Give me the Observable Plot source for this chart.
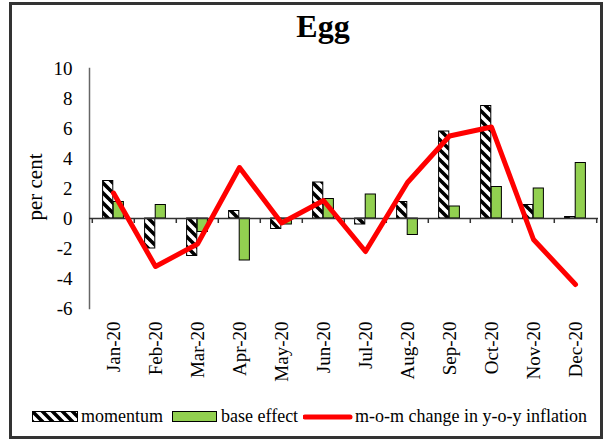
<!DOCTYPE html>
<html>
<head>
<meta charset="utf-8">
<script src="https://cdn.jsdelivr.net/npm/d3@7"></script>
<script src="https://cdn.jsdelivr.net/npm/@observablehq/plot@0.6"></script>
<style>
  body { margin: 0; background: #fff; }
  #wrap { position: relative; width: 607px; height: 440px; overflow: hidden; background: #fff;
          font-family: "Liberation Serif", "Times New Roman", serif; color: #000; }
  #frame { position: absolute; left: 9px; top: 2px; width: 588px; height: 431px; border: 3px solid #333; }
  #title { position: absolute; left: 0; width: 646px; top: 8px; text-align: center; font-weight: bold; font-size: 32px; line-height: 36px; }
  #ylabel { position: absolute; left: 35px; top: 187px; font-size: 21px; line-height: 22px; white-space: nowrap;
            transform: translate(-50%, -50%) rotate(-90deg); }
  #chart { position: absolute; left: 0; top: 0; }
  .lg { position: absolute; font-size: 18px; line-height: 20px; top: 406px; white-space: nowrap; }
  .sw { position: absolute; }
</style>
</head>
<body>
<div id="wrap">
  <div id="chart"></div>
  <div id="frame"></div>
  <div id="title">Egg</div>
  <div id="ylabel">per cent</div>
  <div id="legend"></div>
</div>
<script>
const months = ["Jan-20","Feb-20","Mar-20","Apr-20","May-20","Jun-20","Jul-20","Aug-20","Sep-20","Oct-20","Nov-20","Dec-20"];
const momentum = [2.5, -2.0, -2.5, 0.5, -0.7, 2.4, -0.4, 1.1, 5.8, 7.5, 0.9, 0.1];
const baseEffect = [1.1, 0.9, -0.9, -2.8, -0.4, 1.3, 1.6, -1.1, 0.8, 2.1, 2.0, 3.7];
const momChange = [1.7, -3.2, -1.7, 3.4, -0.3, 1.2, -2.2, 2.4, 5.5, 6.1, -1.4, -4.4];
const yTicks = [-6, -4, -2, 0, 2, 4, 6, 8, 10];
const seriesNames = ["momentum", "base effect", "m-o-m change in y-o-y inflation"];

const W = 607, H = 440, mL = 89, mR = 9, mT = 68, mB = 132;
const step = (W - mL - mR) / months.length;
const barW = step / 4;

const rows = months.map((m, i) => ({month: m, momentum: momentum[i], base: baseEffect[i], mom: momChange[i]}));

const svg = Plot.plot({
  width: W, height: H,
  marginLeft: mL, marginRight: mR, marginTop: mT, marginBottom: mB,
  style: {fontFamily: '"Liberation Serif", "Times New Roman", serif', fontSize: "19px", color: "#000", background: "transparent", overflow: "visible"},
  x: {type: "band", domain: months, padding: 0},
  y: {domain: [-6, 10]},
  marks: [
    Plot.frame({anchor: "left", stroke: "#666", strokeWidth: 1.5}),
    Plot.axisY({ticks: yTicks, tickSize: 0, tickPadding: 17, label: null, tickFormat: d => String(d)}),
    Plot.axisX({tickSize: 0, tickPadding: 13, tickRotate: -90, label: null}),
    Plot.barY(rows, {x: "month", y: "momentum", fill: "url(#hatch)", stroke: "#000", strokeWidth: 1,
                     insetLeft: step / 2 - barW, insetRight: step / 2}),
    Plot.barY(rows, {x: "month", y: "base", fill: "#92D050", stroke: "#000", strokeWidth: 1,
                     insetLeft: step / 2, insetRight: step / 2 - barW}),
    Plot.ruleY([0], {stroke: "#333", strokeWidth: 1.5}),
    Plot.ruleX(rows, {x: "month", y1: 0, y2: 0, insetBottom: -5, dx: -step / 2, stroke: "#333", strokeWidth: 1.5}),
    Plot.ruleX(rows.slice(-1), {x: "month", y1: 0, y2: 0, insetBottom: -5, dx: step / 2, stroke: "#333", strokeWidth: 1.5}),
    Plot.lineY(rows, {x: "month", y: "mom", stroke: "#ff0000", strokeWidth: 5, strokeLinejoin: "round", strokeLinecap: "round"})
  ]
});

const NS = "http://www.w3.org/2000/svg";
const defs = document.createElementNS(NS, "defs");
defs.innerHTML = '<pattern id="hatch" patternUnits="userSpaceOnUse" width="10" height="10">' +
  '<rect width="10" height="10" fill="#fff"/>' +
  '<path d="M-1,-1L11,11M-1,9L1,11M9,-1L11,1" stroke="#000" stroke-width="3.6"/></pattern>';
svg.insertBefore(defs, svg.firstChild);
document.getElementById("chart").appendChild(svg);

// legend
const lg = document.getElementById("legend");
lg.innerHTML =
  '<svg class="sw" style="left:32px;top:411px" width="46" height="12"><rect x="0.5" y="0.5" width="45" height="10" fill="url(#hatch)" stroke="#000"/></svg>' +
  '<div class="lg" style="left:81px">' + seriesNames[0] + '</div>' +
  '<svg class="sw" style="left:172px;top:411px" width="46" height="12"><rect x="0.5" y="0.5" width="44" height="10" fill="#92D050" stroke="#000"/></svg>' +
  '<div class="lg" style="left:221px">' + seriesNames[1] + '</div>' +
  '<svg class="sw" style="left:303px;top:411px" width="50" height="12"><line x1="2" y1="6" x2="47" y2="6" stroke="#ff0000" stroke-width="5" stroke-linecap="round"/></svg>' +
  '<div class="lg" style="left:355px">' + seriesNames[2] + '</div>';
</script>
</body>
</html>
